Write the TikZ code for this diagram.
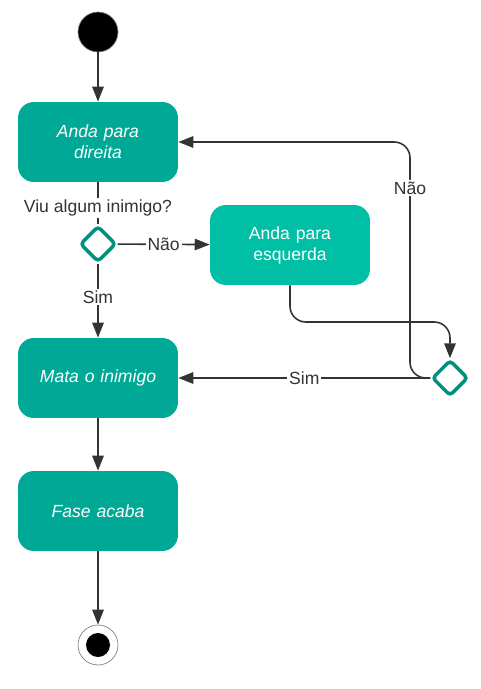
\documentclass[tikz,border=0pt]{standalone}
\usepackage{fontspec}
\setmainfont{Liberation Sans}
\usetikzlibrary{arrows.meta,shapes.geometric}
\definecolor{tealdark}{HTML}{00A896}
\definecolor{teallight}{HTML}{00BFA5}
\definecolor{tealline}{HTML}{02907E}
\definecolor{linegray}{HTML}{333333}

\begin{document}
\begin{tikzpicture}[x=0.02cm, y=-0.02cm,
    action/.style={fill=tealdark, rounded corners=9pt,
        minimum width=3.2cm, minimum height=1.6cm,
        text width=2.5cm, align=center, text=white, font=\itshape},
    decision/.style={draw=tealline, line width=2pt, fill=white, diamond,
        rounded corners=2pt, minimum width=0.72cm, minimum height=0.72cm,
        inner sep=0pt},
    flow/.style={draw=linegray, line width=0.9pt,
        -{Triangle[length=8.5pt, width=6.5pt]}},
    lbl/.style={fill=white, inner sep=1pt, text=linegray}]
    \useasboundingbox (0,0) rectangle (480,689);
        % start and end
        \draw (98,32) node(start) [circle, fill=black, draw=gray,
            minimum size=0.8cm, inner sep=0pt] {};
        \draw (98,645) node(final) [circle, draw=gray, fill=white,
            minimum size=0.8cm, inner sep=0pt] {};
        \fill[black] (final) circle (12);
        % actions
        \draw (98,142) node(direita) [action] {Anda para direita};
        \draw (290,245) node(esquerda) [action, fill=teallight,
            font=\normalfont] {Anda para esquerda};
        \draw (98,378) node(mata) [action] {Mata o inimigo};
        \draw (98,511) node(fase) [action] {Fase acaba};
        % decisions
        \draw (98,244) node(viu) [decision] {};
        \draw (450,378) node(merge) [decision] {};
        % flows
        \draw[flow] (start) -- (direita);
        \draw[draw=linegray, line width=0.9pt] (direita) -- (viu)
            node[pos=0.62, lbl] {Viu algum inimigo?};
        \draw[flow] (viu) -- (esquerda) node[pos=0.5, lbl] {Não};
        \draw[flow] (viu) -- (mata) node[pos=0.45, lbl] {Sim};
        \draw[flow, rounded corners=9pt] (esquerda.south) -- (290,322)
            -- (450,322) -- (merge.north);
        \draw[flow] (merge) -- (mata) node[pos=0.5, lbl] {Sim};
        \draw[flow, rounded corners=9pt] (merge.west) -- (410,378)
            -- node[pos=0.805, lbl] {Não} (410,142) -- (direita.east);
        \draw[flow] (mata) -- (fase);
        \draw[flow] (fase) -- (final);
    \end{tikzpicture}
\end{document}
